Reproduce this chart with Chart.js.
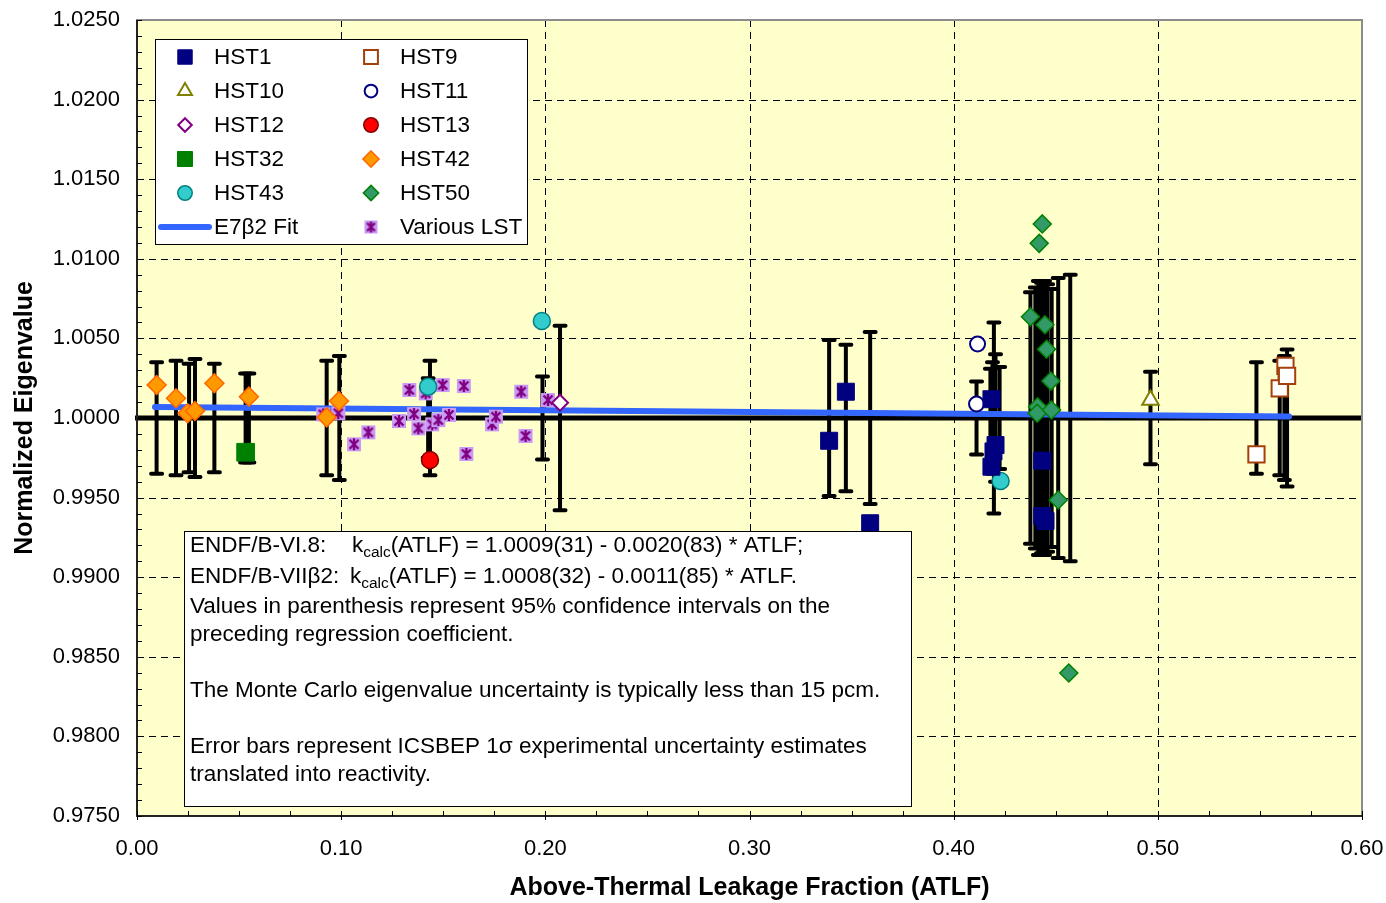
<!DOCTYPE html>
<html><head><meta charset="utf-8">
<script src="https://cdn.jsdelivr.net/npm/chart.js@4.4.1/dist/chart.umd.min.js"></script>
<style>html,body{margin:0;padding:0;background:#fff;}#wrap{width:1386px;height:903px;position:relative;}</style>
</head><body><div id="wrap"><canvas id="c"></canvas></div>
<script>
// ---------- data ----------
const X_TICK_STEP = 0.1;
const Y_TICK_STEP = 0.005;
const X_GRID = [0.1, 0.2, 0.3, 0.4, 0.5];
const Y_GRID = [0.980, 0.985, 0.990, 0.995, 1.005, 1.010, 1.015, 1.020];

const HST1_X = [0.3390, 0.3472, 0.3591, 0.4185, 0.4205, 0.4195, 0.4185, 0.4434, 0.4434, 0.4450];
const HST1_Y = [0.99857, 1.00165, 0.99339, 1.00118, 0.99830, 0.99790, 0.99694, 0.99732, 0.99384, 0.99353];
const HST9_X = [0.5483, 0.5597, 0.5625, 0.5633];
const HST9_Y = [0.99772, 1.00186, 1.00327, 1.00264];
const HST10_X = [0.4964];
const HST10_Y = [1.00113];
const HST11_X = [0.4117, 0.4112];
const HST11_Y = [1.00465, 1.00088];
const HST12_X = [0.2072];
const HST12_Y = [1.00096];
const HST13_X = [0.1435];
const HST13_Y = [0.99736];
const HST32_X = [0.0532];
const HST32_Y = [0.99785];
const HST42_X = [0.0096, 0.0191, 0.0248, 0.0284, 0.0379, 0.0548, 0.0929, 0.0989];
const HST42_Y = [1.00207, 1.00124, 1.00030, 1.00044, 1.00218, 1.00134, 1.00004, 1.00107];
const HST43_X = [0.1426, 0.1983, 0.4230];
const HST43_Y = [1.00197, 1.00609, 0.99604];
const HST50_X = [0.4434, 0.4419, 0.4376, 0.4447, 0.4455, 0.4476, 0.4411, 0.4409, 0.4479, 0.4512, 0.4564];
const HST50_Y = [1.01219, 1.01097, 1.00636, 1.00586, 1.00432, 1.00232, 1.00071, 1.00030, 1.00050, 0.99485, 0.98398];
const LST_X = [0.0912, 0.0986, 0.1063, 0.1133, 0.1283, 0.1334, 0.1357, 0.1378, 0.1414, 0.1446, 0.1476, 0.1497, 0.1528, 0.1601, 0.1613, 0.1739, 0.1758, 0.1882, 0.1903, 0.2013];
const LST_Y = [1.00023, 1.00030, 0.99835, 0.99910, 0.99981, 1.00176, 1.00025, 0.99935, 1.00155, 0.99960, 0.99987, 1.00207, 1.00019, 1.00201, 0.99774, 0.99960, 1.00008, 1.00165, 0.99887, 1.00113];
const FIT_X = [0.0088, 0.5643];
const FIT_Y = [1.00069, 1.00010];

// experimental 1-sigma error bars, centred on 1.0000
const ERR_X = [0.0096, 0.0191, 0.0255, 0.0284, 0.0379, 0.0532, 0.0548, 0.0929, 0.0991, 0.1426, 0.1435, 0.1986, 0.2072, 0.3390, 0.3472, 0.3591, 0.4112, 0.4180, 0.4190, 0.4197, 0.4205, 0.4225, 0.4376, 0.4400, 0.4415, 0.4430, 0.4445, 0.4460, 0.4480, 0.4512, 0.4571, 0.4964, 0.5483, 0.5597, 0.5620, 0.5633];
const ERR_U = [0.0035, 0.0036, 0.0034, 0.0037, 0.0034, 0.0028, 0.0028, 0.0036, 0.0039, 0.0025, 0.0036, 0.0026, 0.0058, 0.0049, 0.0046, 0.0054, 0.0023, 0.0031, 0.0035, 0.0060, 0.0040, 0.0032, 0.0079, 0.0082, 0.0086, 0.0085, 0.0086, 0.0084, 0.0081, 0.0088, 0.0090, 0.0029, 0.0035, 0.0036, 0.0039, 0.0043];

const NOTE_LINES = [
  'Values in parenthesis represent 95% confidence intervals on the',
  'preceding regression coefficient.',
  'The Monte Carlo eigenvalue uncertainty is typically less than 15 pcm.',
  'Error bars represent ICSBEP 1\u03c3 experimental uncertainty estimates',
  'translated into reactivity.'
];

// ---------- helpers ----------
const FONT = '"Liberation Sans", Arial, sans-serif';
const TXT = '22.5px ' + FONT;
function zip(xs, ys) { return xs.map((x, i) => ({x: x, y: ys[i]})); }
function makeStar(size) {
  const c = document.createElement('canvas');
  c.width = size; c.height = size;
  const g = c.getContext('2d');
  g.fillStyle = '#C99BF5';
  g.fillRect(1, 1, size - 2, size - 2);
  g.strokeStyle = '#800080'; g.lineWidth = 2.4;
  g.beginPath();
  g.moveTo(3.5, 3.5); g.lineTo(size - 3.5, size - 3.5);
  g.moveTo(size - 3.5, 3.5); g.lineTo(3.5, size - 3.5);
  g.moveTo(size / 2, 2); g.lineTo(size / 2, size - 2);
  g.stroke();
  return c;
}
const STAR = makeStar(16);
const STAR_L = makeStar(15);

const STYLES = {
  HST1: {pointStyle: 'rect', pointRadius: 12, backgroundColor: '#000080', borderColor: '#000080', borderWidth: 1},
  HST9: {pointStyle: 'rect', pointRadius: 11.5, backgroundColor: '#FFFFFF', borderColor: '#A4400C', borderWidth: 2},
  HST10: {pointStyle: 'triangle', pointRadius: 9.5, backgroundColor: '#FFFFFF', borderColor: '#808000', borderWidth: 2},
  HST11: {pointStyle: 'circle', pointRadius: 7.5, backgroundColor: '#FFFFFF', borderColor: '#000080', borderWidth: 2},
  HST12: {pointStyle: 'rectRot', pointRadius: 8, backgroundColor: '#FFFFFF', borderColor: '#800080', borderWidth: 2},
  HST13: {pointStyle: 'circle', pointRadius: 8.5, backgroundColor: '#FF0000', borderColor: '#800000', borderWidth: 1.5},
  HST32: {pointStyle: 'rect', pointRadius: 12.5, backgroundColor: '#008000', borderColor: '#008000', borderWidth: 1},
  HST42: {pointStyle: 'rectRot', pointRadius: 9.5, backgroundColor: '#FF9900', borderColor: '#FF6600', borderWidth: 1.5},
  HST43: {pointStyle: 'circle', pointRadius: 8.5, backgroundColor: '#33CCCC', borderColor: '#008080', borderWidth: 1.5},
  HST50: {pointStyle: 'rectRot', pointRadius: 9, backgroundColor: '#339966', borderColor: '#008000', borderWidth: 1.5},
  LST: {pointStyle: STAR, pointRadius: 8, backgroundColor: '#C99BF5', borderColor: '#800080', borderWidth: 0}
};
function ds(label, xs, ys, key) {
  const s = STYLES[key];
  return Object.assign({type: 'scatter', label: label, data: zip(xs, ys), showLine: false, pointHoverRadius: s.pointRadius}, s);
}

const LEGEND_ITEMS = [
  ['HST1', 'HST1', 0, 0], ['HST9', 'HST9', 1, 0],
  ['HST10', 'HST10', 0, 1], ['HST11', 'HST11', 1, 1],
  ['HST12', 'HST12', 0, 2], ['HST13', 'HST13', 1, 2],
  ['HST32', 'HST32', 0, 3], ['HST42', 'HST42', 1, 3],
  ['HST43', 'HST43', 0, 4], ['HST50', 'HST50', 1, 4],
  ['E7\u03b22 Fit', 'FIT', 0, 5], ['Various LST', 'LST', 1, 5]
];

function drawMarker(ctx, key, x, y, scale) {
  const s = STYLES[key];
  ctx.save();
  if (key === 'LST') {
    ctx.drawImage(STAR_L, x - STAR_L.width / 2, y - STAR_L.height / 2);
    ctx.restore();
    return;
  }
  ctx.fillStyle = s.backgroundColor; ctx.strokeStyle = s.borderColor; ctx.lineWidth = s.borderWidth;
  const r = s.pointRadius * scale;
  ctx.beginPath();
  if (s.pointStyle === 'rect') {
    const h = r * Math.SQRT1_2;
    ctx.rect(x - h, y - h, 2 * h, 2 * h);
  } else if (s.pointStyle === 'circle') {
    ctx.arc(x, y, r, 0, Math.PI * 2);
  } else if (s.pointStyle === 'rectRot') {
    ctx.moveTo(x, y - r); ctx.lineTo(x + r, y); ctx.lineTo(x, y + r); ctx.lineTo(x - r, y); ctx.closePath();
  } else if (s.pointStyle === 'triangle') {
    for (let i = 0; i < 3; i++) {
      const a = i * 2 * Math.PI / 3;
      const px = x + Math.sin(a) * r, py = y - Math.cos(a) * r;
      if (i === 0) ctx.moveTo(px, py); else ctx.lineTo(px, py);
    }
    ctx.closePath();
  }
  ctx.fill();
  if (s.borderWidth > 0) ctx.stroke();
  ctx.restore();
}

const decorPlugin = {
  id: 'decor',
  beforeDraw(chart) {
    const {ctx, chartArea: a} = chart;
    const xs = chart.scales.x, ys = chart.scales.y;
    ctx.save();
    ctx.fillStyle = '#FFFFFF'; ctx.fillRect(0, 0, chart.width, chart.height);
    ctx.fillStyle = '#FFFFCC'; ctx.fillRect(a.left, a.top, a.right - a.left, a.bottom - a.top);
    ctx.strokeStyle = '#000000'; ctx.lineWidth = 1; ctx.setLineDash([7, 5]);
    Y_GRID.forEach(v => {
      const py = Math.round(ys.getPixelForValue(v)) + 0.5;
      ctx.beginPath(); ctx.moveTo(a.left, py); ctx.lineTo(a.right, py); ctx.stroke();
    });
    X_GRID.forEach(v => {
      const px = Math.round(xs.getPixelForValue(v)) + 0.5;
      ctx.beginPath(); ctx.moveTo(px, a.top); ctx.lineTo(px, a.bottom); ctx.stroke();
    });
    ctx.setLineDash([]);
    ctx.restore();
  },
  beforeDatasetsDraw(chart) {
    const {ctx, chartArea: a} = chart;
    const xs = chart.scales.x, ys = chart.scales.y;
    ctx.save();
    // reference line at 1.0000
    const p1 = ys.getPixelForValue(1.0);
    ctx.strokeStyle = '#000'; ctx.lineWidth = 5; ctx.lineCap = 'butt';
    ctx.beginPath(); ctx.moveTo(a.left - 2, p1); ctx.lineTo(a.right, p1); ctx.stroke();
    // error bars
    ctx.lineWidth = 4; ctx.lineCap = 'round';
    ERR_X.forEach((xv, i) => {
      const px = xs.getPixelForValue(xv);
      const top = ys.getPixelForValue(1 + ERR_U[i]);
      const bot = ys.getPixelForValue(1 - ERR_U[i]);
      ctx.beginPath();
      ctx.moveTo(px, top); ctx.lineTo(px, bot);
      ctx.moveTo(px - 5.5, top); ctx.lineTo(px + 5.5, top);
      ctx.moveTo(px - 5.5, bot); ctx.lineTo(px + 5.5, bot);
      ctx.stroke();
    });
    ctx.restore();
  },
  afterDatasetsDraw(chart) {
    const {ctx, chartArea: a} = chart;
    const xs = chart.scales.x, ys = chart.scales.y;
    ctx.save();
    // plot border
    ctx.strokeStyle = '#8C8C8C'; ctx.lineWidth = 2;
    ctx.strokeRect(a.left, a.top, a.right - a.left, a.bottom - a.top);
    ctx.strokeStyle = '#000'; ctx.lineWidth = 1.5;
    ctx.beginPath(); ctx.moveTo(a.left, a.top); ctx.lineTo(a.left, a.bottom); ctx.lineTo(a.right, a.bottom); ctx.stroke();
    // minor ticks
    ctx.lineWidth = 1;
    for (let k = 0; k <= 50; k++) {
      const py = Math.round(ys.getPixelForValue(0.975 + k * 0.001)) + 0.5;
      ctx.beginPath(); ctx.moveTo(a.left, py); ctx.lineTo(a.left + 5, py); ctx.stroke();
    }
    for (let k = 0; k <= 24; k++) {
      const px = Math.round(xs.getPixelForValue(k * 0.025)) + 0.5;
      const major = k % 4 === 0;
      ctx.beginPath(); ctx.moveTo(px, a.bottom - 5); ctx.lineTo(px, a.bottom + (major ? 4 : 0)); ctx.stroke();
    }
    // legend box
    ctx.fillStyle = '#FFFFFF'; ctx.strokeStyle = '#000'; ctx.lineWidth = 1;
    ctx.fillRect(155, 39, 372, 205); ctx.strokeRect(155.5, 39.5, 372, 205);
    ctx.font = TXT; ctx.textBaseline = 'middle'; ctx.textAlign = 'left'; ctx.fillStyle = '#000';
    LEGEND_ITEMS.forEach(([label, key, col, row]) => {
      const cy = 57 + row * 34;
      const mx = col === 0 ? 185 : 371;
      const tx = col === 0 ? 214 : 400;
      if (key === 'FIT') {
        ctx.save(); ctx.strokeStyle = '#3366FF'; ctx.lineWidth = 6; ctx.lineCap = 'round';
        ctx.beginPath(); ctx.moveTo(161, cy); ctx.lineTo(209, cy); ctx.stroke(); ctx.restore();
      } else {
        drawMarker(ctx, key, mx, cy, 0.85);
      }
      ctx.fillStyle = '#000';
      ctx.fillText(label, tx, cy + 1);
    });
    // note box
    ctx.fillStyle = '#FFFFFF';
    ctx.fillRect(184, 531, 727, 275); ctx.strokeStyle = '#000'; ctx.strokeRect(184.5, 531.5, 727, 275);
    ctx.fillStyle = '#000';
    const eq = [
      ['ENDF/B-VI.8:', 352, '(ATLF) = 1.0009(31) - 0.0020(83) * ATLF;', 546],
      ['ENDF/B-VII\u03b22:', 350, '(ATLF) = 1.0008(32) - 0.0011(85) * ATLF.', 577]
    ];
    eq.forEach(([lab, kx, rest, y]) => {
      ctx.font = TXT;
      ctx.fillText(lab, 190, y);
      ctx.fillText('k', kx, y);
      let x = kx + ctx.measureText('k').width;
      ctx.font = '15.5px ' + FONT;
      ctx.fillText('calc', x, y + 7);
      x += ctx.measureText('calc').width;
      ctx.font = TXT;
      ctx.fillText(rest, x, y);
    });
    const ly = [607, 635, 691, 747, 775];
    NOTE_LINES.forEach((t, i) => ctx.fillText(t, 190, ly[i]));
    ctx.restore();
  }
};

function noPad(s) { s.paddingLeft = 0; s.paddingRight = 0; s.paddingTop = 0; s.paddingBottom = 0; }

new Chart(document.getElementById('c'), {
  data: {
    datasets: [
      ds('HST1', HST1_X, HST1_Y, 'HST1'),
      ds('HST9', HST9_X, HST9_Y, 'HST9'),
      ds('HST10', HST10_X, HST10_Y, 'HST10'),
      ds('HST11', HST11_X, HST11_Y, 'HST11'),
      ds('HST12', HST12_X, HST12_Y, 'HST12'),
      ds('HST13', HST13_X, HST13_Y, 'HST13'),
      ds('HST32', HST32_X, HST32_Y, 'HST32'),
      ds('HST42', HST42_X, HST42_Y, 'HST42'),
      ds('HST43', HST43_X, HST43_Y, 'HST43'),
      ds('HST50', HST50_X, HST50_Y, 'HST50'),
      ds('Various LST', LST_X, LST_Y, 'LST'),
      {type: 'line', label: 'E7\u03b22 Fit', data: zip(FIT_X, FIT_Y), borderColor: '#3366FF', borderWidth: 6,
       borderCapStyle: 'round', pointRadius: 0, fill: false, order: 100}
    ]
  },
  options: {
    responsive: true, maintainAspectRatio: false, animation: false,
    layout: {padding: {top: 20, right: 24, left: 0, bottom: 0}},
    plugins: {legend: {display: false}, tooltip: {enabled: false}, title: {display: false}},
    scales: {
      x: {
        type: 'linear', min: 0, max: 0.6,
        grid: {display: false, drawTicks: false}, border: {display: false},
        ticks: {stepSize: X_TICK_STEP, color: '#000', font: {size: 22, family: FONT}, padding: 20,
                callback: v => Number(v).toFixed(2), maxRotation: 0},
        title: {display: true, text: 'Above-Thermal Leakage Fraction (ATLF)', color: '#000',
                font: {size: 25, weight: 'bold', family: FONT}, padding: {top: 0, bottom: 0}},
        afterFit: s => { s.height = 87; noPad(s); }
      },
      y: {
        type: 'linear', min: 0.975, max: 1.025,
        grid: {display: false, drawTicks: false}, border: {display: false},
        ticks: {stepSize: Y_TICK_STEP, color: '#000', font: {size: 22, family: FONT}, padding: 17,
                callback: v => Number(v).toFixed(4)},
        title: {display: true, text: 'Normalized Eigenvalue', color: '#000',
                font: {size: 25, weight: 'bold', family: FONT}, padding: {top: 10, bottom: 0}},
        afterFit: s => { s.width = 137; noPad(s); }
      }
    }
  },
  plugins: [decorPlugin]
});
</script></body></html>
